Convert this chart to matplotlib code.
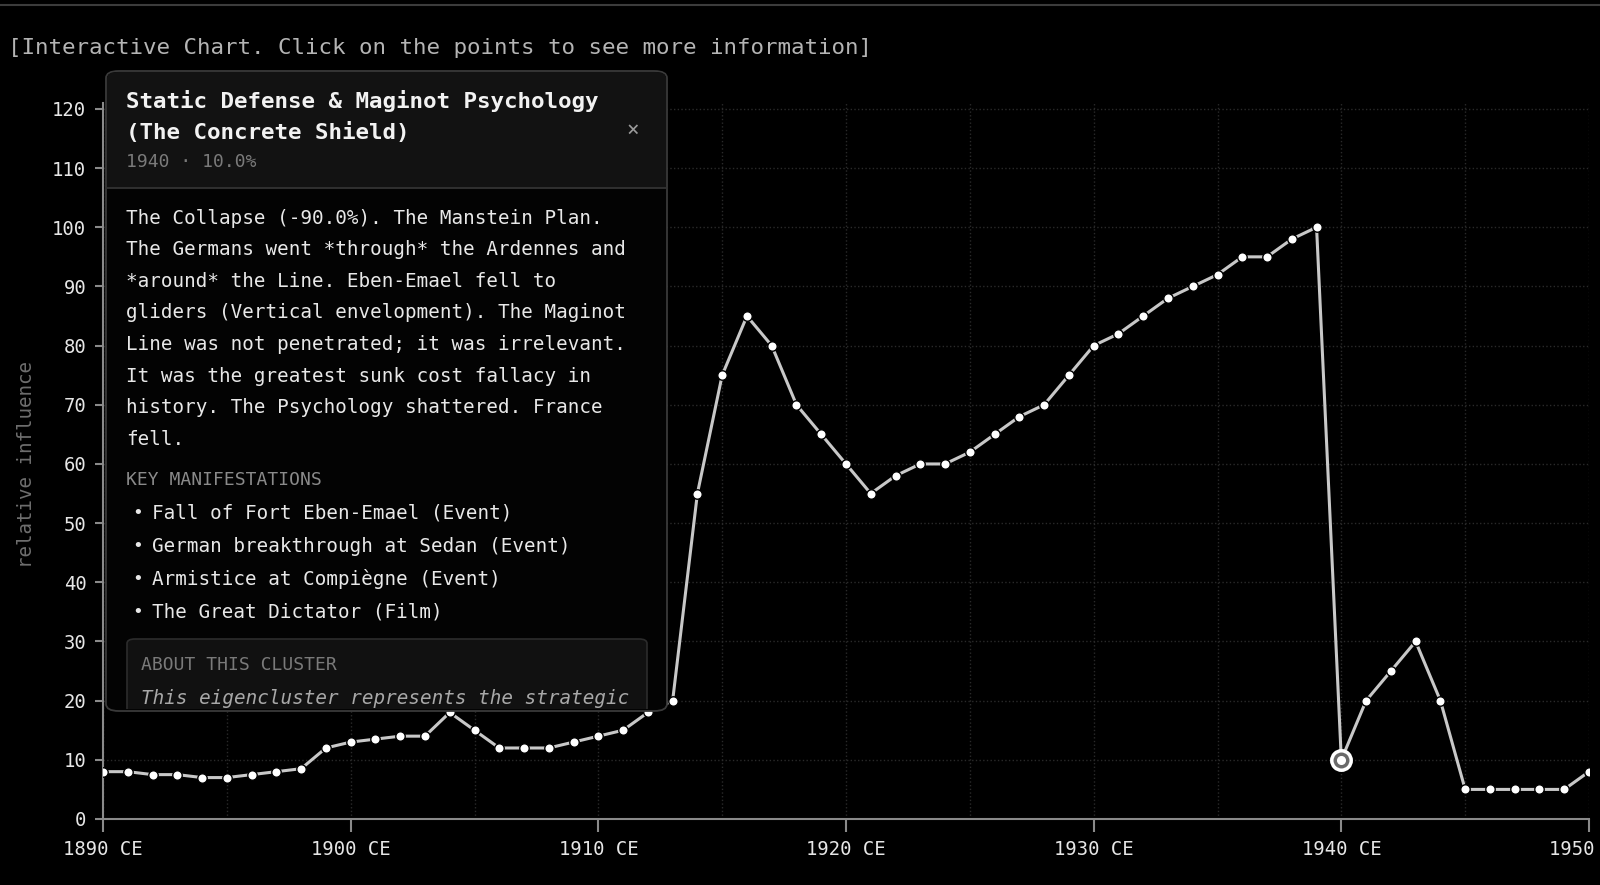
import matplotlib
matplotlib.use("Agg")
import matplotlib.pyplot as plt
from matplotlib.patches import FancyBboxPatch, Rectangle
from matplotlib.lines import Line2D
from matplotlib.transforms import Bbox
from matplotlib.ticker import MultipleLocator

plt.rcParams['font.family'] = ['DejaVu Sans Mono']

# data
years = list(range(1890, 1951))
influence = [8, 8, 7.5, 7.5, 7, 7, 7.5, 8, 8.5, 12,
             13, 13.5, 14, 14, 18, 15, 12, 12, 12, 13,
             14, 15, 18, 20, 55, 75, 85, 80, 70, 65,
             60, 55, 58, 60, 60, 62, 65, 68, 70, 75,
             80, 82, 85, 88, 90, 92, 95, 95, 98, 100,
             10, 20, 25, 30, 20, 5, 5, 5, 5, 5,
             8]
selected_year = 1940
xtick_years = [1890, 1900, 1910, 1920, 1930, 1940, 1950]
ytick_vals = [0, 10, 20, 30, 40, 50, 60, 70, 80, 90, 100, 110, 120]

title_lines = ["Static Defense & Maginot Psychology", "(The Concrete Shield)"]
meta = "1940 · 10.0%"
body_lines = ["The Collapse (-90.0%). The Manstein Plan.",
              "The Germans went *through* the Ardennes and",
              "*around* the Line. Eben-Emael fell to",
              "gliders (Vertical envelopment). The Maginot",
              "Line was not penetrated; it was irrelevant.",
              "It was the greatest sunk cost fallacy in",
              "history. The Psychology shattered. France",
              "fell."]
manifestations = ["Fall of Fort Eben-Emael (Event)",
                  "German breakthrough at Sedan (Event)",
                  "Armistice at Compiègne (Event)",
                  "The Great Dictator (Film)"]
about_text = "This eigencluster represents the strategic"

W, H = 1600, 885
fig = plt.figure(figsize=(W / 100, H / 100), dpi=100, facecolor='black')

# pixel (top-left origin) -> figure fraction
def fx(x):
    return x / W

def fy(y):
    return 1 - y / H

ax = fig.add_axes([fx(103), fy(819), fx(1589) - fx(103), (819 - 103) / H])
ax.set_facecolor('black')

ax.plot(years, influence, color='#c8c8c8', lw=2.2, zorder=3,
        marker='o', markersize=6.8, markerfacecolor='white',
        markeredgecolor='black', markeredgewidth=1)
sel = years.index(selected_year)
ax.plot(years[sel], influence[sel], 'o', markersize=14, markerfacecolor='#6a6a6a',
        markeredgecolor='white', markeredgewidth=2.5, zorder=5)
ax.plot(years[sel], influence[sel], 'o', markersize=5.5, markerfacecolor='white',
        markeredgecolor='white', zorder=6)

ax.set_xlim(1890, 1950)
ax.set_ylim(0, 121)
ax.set_xticks(xtick_years)
ax.set_xticklabels([f"{y} CE" for y in xtick_years])
ax.set_yticks(ytick_vals)
ax.xaxis.set_minor_locator(MultipleLocator(5))
ax.grid(which='both', axis='x', color='#2a2a2a', linestyle=':', lw=1)
ax.grid(which='major', axis='y', color='#2a2a2a', linestyle=':', lw=1)
ax.tick_params(axis='x', which='minor', length=0)
ax.tick_params(axis='both', colors='#8a8a8a', labelcolor='#e6e6e6', labelsize=13.6, width=1.5)
ax.tick_params(axis='x', length=9, pad=6)
ax.tick_params(axis='y', length=6, pad=6)
for side in ['top', 'right']:
    ax.spines[side].set_visible(False)
for side in ['left', 'bottom']:
    ax.spines[side].set_color('#8a8a8a')
    ax.spines[side].set_linewidth(1.5)

fig.text(fx(26.5), fy(464), "relative influence", rotation=90, color='#6e6e6e',
         fontsize=13.8, ha='center', va='center')

# header
fig.add_artist(Line2D([0, 1], [fy(5), fy(5)], color='#3c3c3c', lw=1.5))
fig.text(fx(8), fy(48), "[Interactive Chart. Click on the points to see more information]",
         color='#b4b4b4', fontsize=16.2, ha='left', va='center')

# tooltip panel
L, T, R, B = 106, 71, 667, 711
panel = FancyBboxPatch((fx(L), fy(B)), fx(R) - fx(L), fy(T) - fy(B),
                       boxstyle="round,pad=0,rounding_size=0.008",
                       transform=fig.transFigure, facecolor='#030303',
                       edgecolor='#3a3a3a', lw=1.3, zorder=10)
fig.add_artist(panel)
head = Rectangle((fx(L + 1), fy(188)), fx(R - 1) - fx(L + 1), fy(T + 8) - fy(188),
                 transform=fig.transFigure, facecolor='#121212', edgecolor='none', zorder=10.5)
fig.add_artist(head)
head2 = FancyBboxPatch((fx(L + 1), fy(T + 20)), fx(R - 1) - fx(L + 1), fy(T + 1) - fy(T + 20),
                       boxstyle="round,pad=0,rounding_size=0.007",
                       transform=fig.transFigure, facecolor='#121212', edgecolor='none', zorder=10.5)
fig.add_artist(head2)
fig.add_artist(Line2D([fx(L), fx(R)], [fy(188), fy(188)], color='#333333', lw=1.3, zorder=11))

for i, line in enumerate(title_lines):
    fig.text(fx(126), fy(101 + i * 32), line, color='#f2f2f2', fontsize=16.2,
             fontweight='bold', ha='left', va='center', zorder=12)
fig.text(fx(633), fy(130), "×", color='#9a9a9a', fontsize=15, ha='center', va='center', zorder=12)
fig.text(fx(126), fy(162), meta, color='#7a7a7a', fontsize=13, ha='left', va='center', zorder=12)

for i, line in enumerate(body_lines):
    fig.text(fx(126), fy(218 + i * 31.6), line, color='#e8e8e8', fontsize=13.9,
             ha='left', va='center', zorder=12)

fig.text(fx(126), fy(480), "KEY MANIFESTATIONS", color='#8a8a8a', fontsize=13,
         ha='left', va='center', zorder=12)
for i, item in enumerate(manifestations):
    yy = fy(513 + i * 33)
    fig.text(fx(138), yy, "•", color='#e8e8e8', fontsize=13, ha='center', va='center', zorder=12)
    fig.text(fx(152), yy, item, color='#e8e8e8', fontsize=13.9, ha='left', va='center', zorder=12)

clip = Bbox.from_extents(L + 1, H - B + 2, R - 1, H - T)
about = FancyBboxPatch((fx(127), fy(B + 20)), fx(647) - fx(127), fy(639) - fy(B + 20),
                       boxstyle="round,pad=0,rounding_size=0.005",
                       transform=fig.transFigure, facecolor='#111111',
                       edgecolor='#2c2c2c', lw=1.2, zorder=11)
about.set_clip_box(clip)
fig.add_artist(about)
fig.text(fx(141), fy(665), "ABOUT THIS CLUSTER", color='#7a7a7a', fontsize=13,
         ha='left', va='center', zorder=12)
t = fig.text(fx(141), fy(699), about_text, color='#a8a8a8', fontsize=13.9,
             style='italic', ha='left', va='center', zorder=12)
t.set_clip_box(clip)

fig.savefig("out.png", dpi=100, facecolor='black')
